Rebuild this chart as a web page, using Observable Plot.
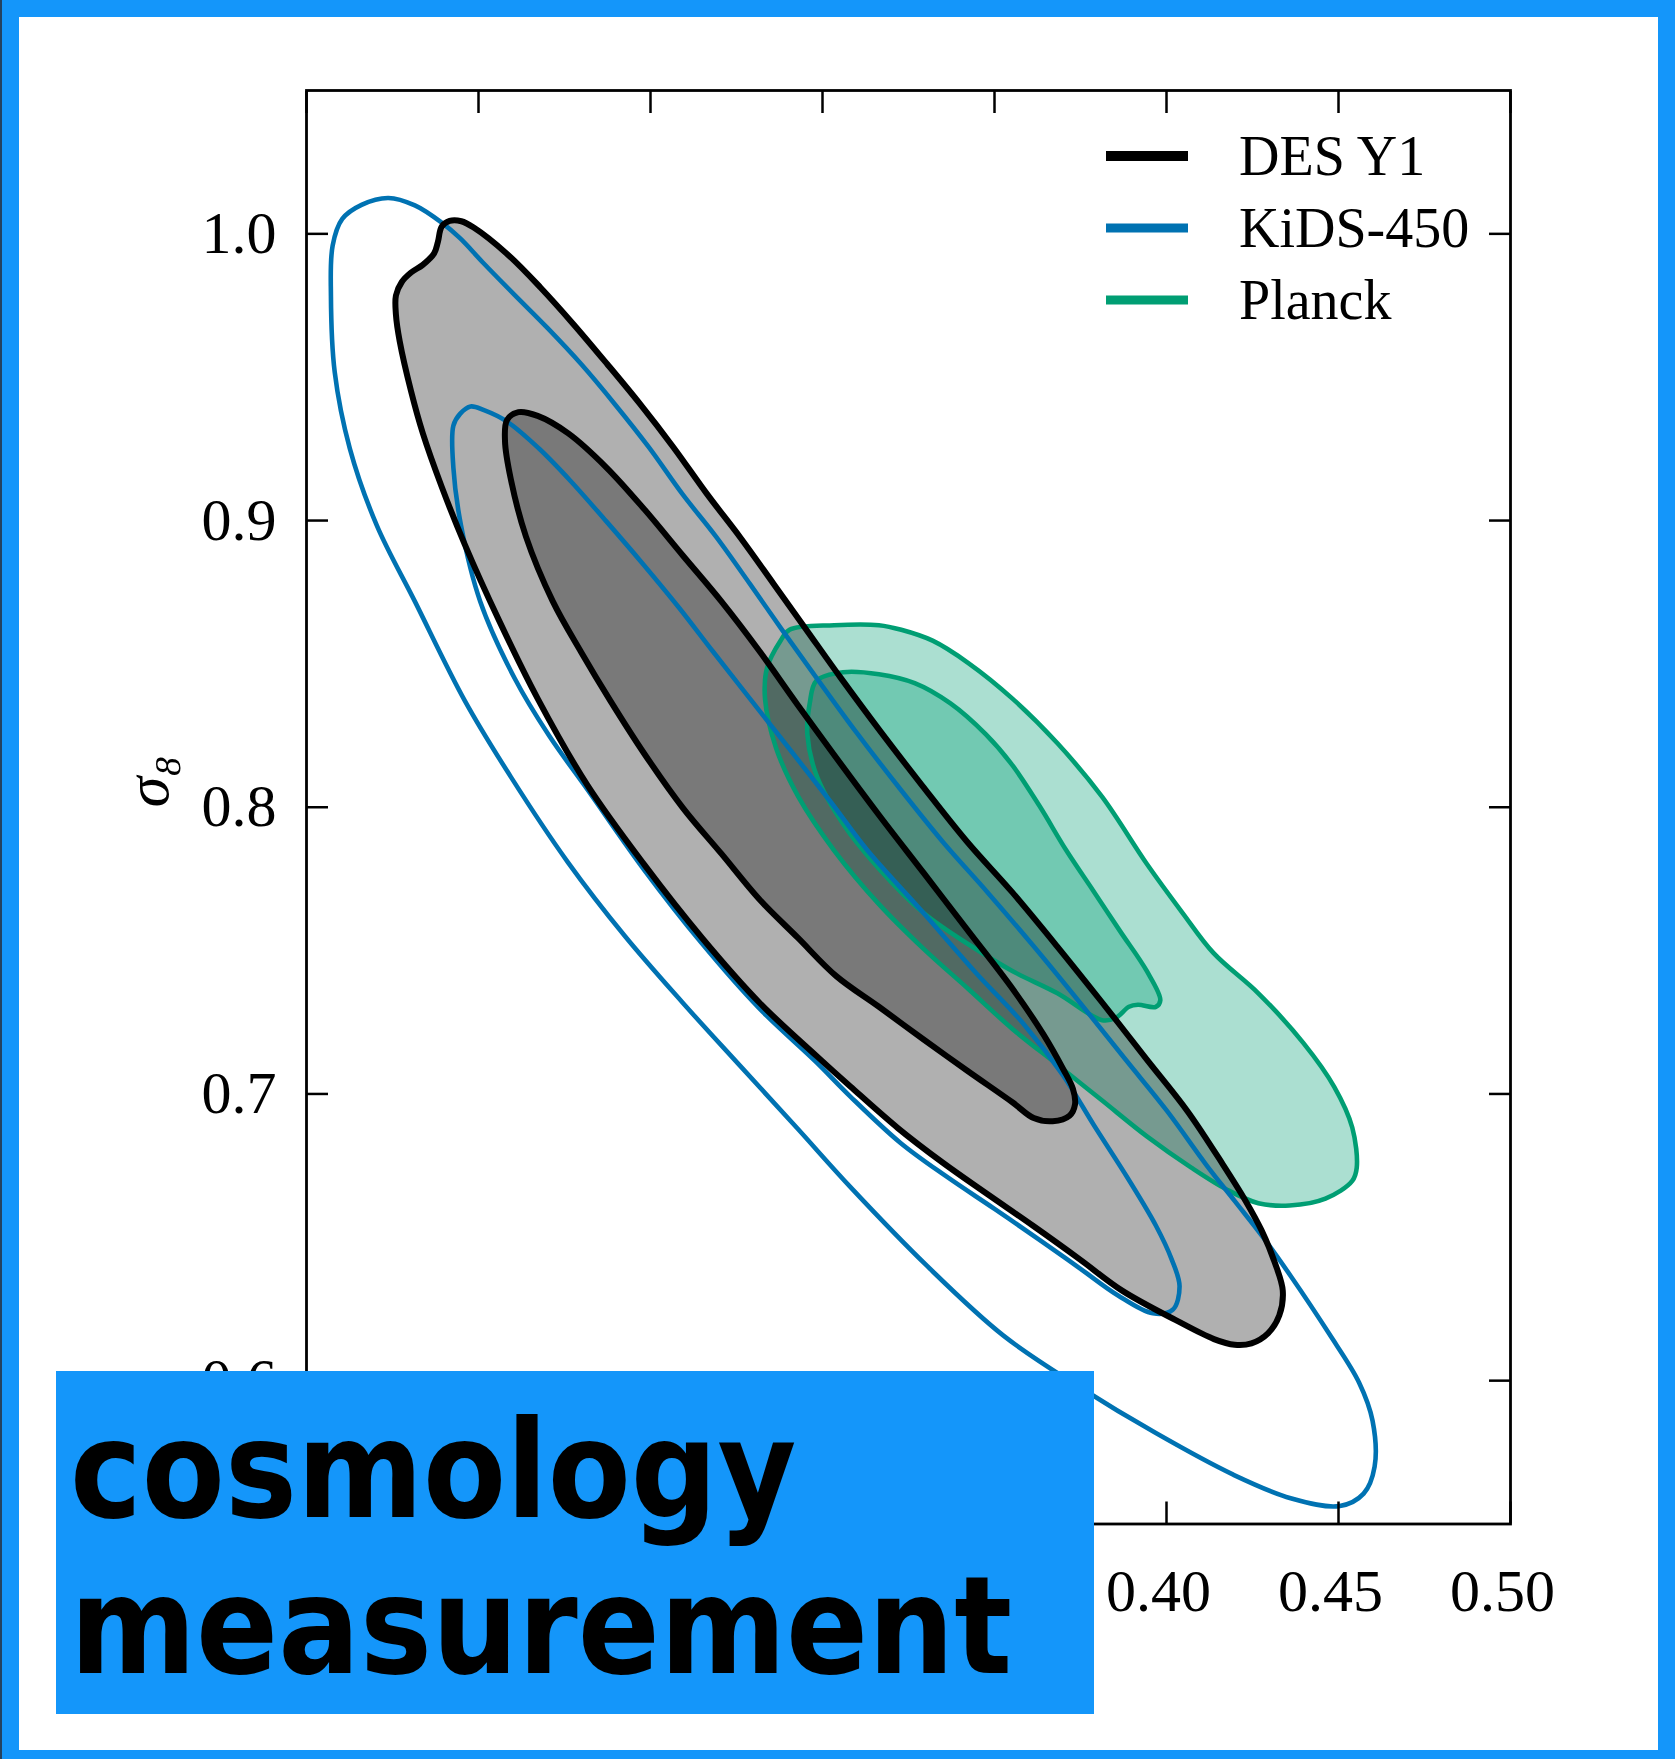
<!DOCTYPE html>
<html>
<head>
<meta charset="utf-8">
<script src="https://cdn.jsdelivr.net/npm/d3@7"></script>
<script src="https://cdn.jsdelivr.net/npm/@observablehq/plot@0.6"></script>
<style>
  html, body { margin: 0; padding: 0; }
  body { width: 1675px; height: 1759px; position: relative; background: #1496fa; overflow: hidden; }
  #edge { position: absolute; left: 0; top: 0; width: 2px; height: 1759px; background: #24425f; }
  #page { position: absolute; left: 19px; top: 17px; width: 1639px; height: 1733px; background: #ffffff; }
  #chart { position: absolute; left: 0; top: 0; }
  #legend { position: absolute; left: 1090px; top: 110px; }
  #tag { position: absolute; left: 56px; top: 1371px; width: 1038px; height: 343px; background: #1496fa; }
  .tagline { position: absolute; left: 70px; font-family: "DejaVu Sans", sans-serif; font-weight: bold;
             font-size: 136px; line-height: 100px; color: #000; transform: scaleX(0.89); transform-origin: 0 0; white-space: nowrap; }
</style>
</head>
<body>
<div id="edge"></div>
<div id="page"></div>
<div id="chart"></div>
<div id="legend"></div>
<div id="tagwrap"></div>
<script>
// ---------- data ----------
const xDomain = [0.15, 0.50];
const yDomain = [0.55, 1.05];
const xTicks = [0.15, 0.20, 0.25, 0.30, 0.35, 0.40, 0.45, 0.50];
const xLabelTicks = [0.40, 0.45, 0.50];   // the others are hidden under the tag in the reference
const yTicks = [0.6, 0.7, 0.8, 0.9, 1.0];
const yLabel = "σ₈";
const seriesNames = ["DES Y1", "KiDS-450", "Planck"];
const seriesColors = ["#000000", "#0072b2", "#009e73"];
const tagLines = ["cosmology", "measurement"];

// contours: [Omega_m, sigma_8]
const desOuter = [[0.1916,1.0045],[0.1950,1.0044],[0.1986,1.0022],[0.2083,0.9930],[0.2180,0.9813],[0.2276,0.9685],[0.2374,0.9546],[0.2470,0.9406],[0.2567,0.9255],[0.2664,0.9093],[0.2761,0.8941],[0.2858,0.8779],[0.2955,0.8616],[0.3052,0.8453],[0.3170,0.8262],[0.3291,0.8074],[0.3421,0.7879],[0.3552,0.7703],[0.3682,0.7515],[0.3813,0.7319],[0.3943,0.7120],[0.4061,0.6940],[0.4165,0.6752],[0.4230,0.6627],[0.4276,0.6525],[0.4315,0.6411],[0.4338,0.6314],[0.4328,0.6228],[0.4295,0.6165],[0.4247,0.6130],[0.4198,0.6125],[0.4138,0.6145],[0.4027,0.6211],[0.3871,0.6314],[0.3748,0.6423],[0.3611,0.6541],[0.3480,0.6650],[0.3350,0.6760],[0.3219,0.6881],[0.3081,0.7026],[0.2984,0.7131],[0.2817,0.7318],[0.2650,0.7544],[0.2483,0.7798],[0.2316,0.8078],[0.2172,0.8379],[0.2060,0.8651],[0.1960,0.8917],[0.1893,0.9118],[0.1838,0.9305],[0.1804,0.9451],[0.1771,0.9625],[0.1760,0.9718],[0.1760,0.9785],[0.1777,0.9832],[0.1804,0.9865],[0.1838,0.9892],[0.1871,0.9932],[0.1882,0.9972],[0.1893,1.0025]];
const desInner = [[0.2116,0.9378],[0.2172,0.9365],[0.2261,0.9304],[0.2372,0.9185],[0.2483,0.9038],[0.2594,0.8878],[0.2706,0.8718],[0.2817,0.8544],[0.2928,0.8357],[0.3033,0.8184],[0.3164,0.7973],[0.3294,0.7771],[0.3424,0.7568],[0.3553,0.7366],[0.3643,0.7206],[0.3699,0.7088],[0.3728,0.7018],[0.3734,0.6963],[0.3718,0.6924],[0.3669,0.6905],[0.3614,0.6916],[0.3552,0.6971],[0.3421,0.7081],[0.3294,0.7190],[0.3164,0.7304],[0.3040,0.7411],[0.2928,0.7545],[0.2817,0.7678],[0.2706,0.7838],[0.2594,0.7998],[0.2483,0.8185],[0.2383,0.8372],[0.2299,0.8540],[0.2216,0.8718],[0.2138,0.8944],[0.2094,0.9144],[0.2077,0.9278],[0.2083,0.9351]];
const kidsOuter = [[0.1738,1.0125],[0.1815,1.0099],[0.1893,1.0039],[0.1947,0.9984],[0.2012,0.9901],[0.2104,0.9788],[0.2201,0.9671],[0.2299,0.9545],[0.2397,0.9405],[0.2495,0.9256],[0.2593,0.9092],[0.2691,0.8943],[0.2789,0.8779],[0.2883,0.8618],[0.2981,0.8454],[0.3098,0.8262],[0.3219,0.8074],[0.3350,0.7879],[0.3480,0.7703],[0.3614,0.7515],[0.3748,0.7319],[0.3881,0.7120],[0.4002,0.6940],[0.4116,0.6752],[0.4198,0.6627],[0.4282,0.6498],[0.4361,0.6365],[0.4472,0.6165],[0.4560,0.5993],[0.4599,0.5860],[0.4605,0.5700],[0.4573,0.5606],[0.4504,0.5563],[0.4361,0.5590],[0.4194,0.5672],[0.3969,0.5817],[0.3748,0.5977],[0.3526,0.6157],[0.3304,0.6400],[0.3082,0.6674],[0.2926,0.6881],[0.2762,0.7096],[0.2593,0.7319],[0.2426,0.7550],[0.2260,0.7808],[0.2094,0.8106],[0.1960,0.8372],[0.1815,0.8718],[0.1704,0.8984],[0.1626,0.9251],[0.1582,0.9518],[0.1571,0.9785],[0.1576,0.9959],[0.1604,1.0052],[0.1660,1.0101]];
const kidsInner = [[0.1977,0.9398],[0.2016,0.9385],[0.2083,0.9345],[0.2175,0.9252],[0.2267,0.9139],[0.2371,0.8998],[0.2475,0.8853],[0.2583,0.8696],[0.2681,0.8544],[0.2789,0.8379],[0.2899,0.8211],[0.3023,0.8020],[0.3131,0.7849],[0.3284,0.7644],[0.3447,0.7421],[0.3584,0.7245],[0.3699,0.7065],[0.3790,0.6889],[0.3888,0.6705],[0.3969,0.6541],[0.4015,0.6423],[0.4038,0.6329],[0.4018,0.6247],[0.3960,0.6235],[0.3858,0.6298],[0.3748,0.6392],[0.3637,0.6486],[0.3500,0.6599],[0.3359,0.6713],[0.3226,0.6830],[0.3081,0.6991],[0.2981,0.7112],[0.2815,0.7300],[0.2648,0.7527],[0.2482,0.7781],[0.2316,0.8063],[0.2205,0.8250],[0.2105,0.8450],[0.2005,0.8718],[0.1949,0.8984],[0.1927,0.9184],[0.1927,0.9331],[0.1947,0.9373]];
const planckOuter = [[0.2904,0.8619],[0.3034,0.8635],[0.3164,0.8635],[0.3229,0.8619],[0.3320,0.8581],[0.3424,0.8503],[0.3553,0.8378],[0.3683,0.8223],[0.3813,0.8036],[0.3943,0.7802],[0.4047,0.7631],[0.4137,0.7491],[0.4267,0.7351],[0.4397,0.7179],[0.4488,0.7024],[0.4540,0.6883],[0.4553,0.6743],[0.4540,0.6697],[0.4462,0.6635],[0.4358,0.6611],[0.4267,0.6619],[0.4176,0.6666],[0.4072,0.6743],[0.3943,0.6852],[0.3813,0.6977],[0.3683,0.7102],[0.3553,0.7226],[0.3424,0.7366],[0.3294,0.7506],[0.3164,0.7662],[0.3034,0.7849],[0.2930,0.8036],[0.2865,0.8207],[0.2833,0.8378],[0.2839,0.8487],[0.2878,0.8581]];
const planckInner = [[0.2982,0.8441],[0.3060,0.8471],[0.3164,0.8464],[0.3268,0.8433],[0.3371,0.8363],[0.3475,0.8254],[0.3553,0.8145],[0.3631,0.8004],[0.3709,0.7849],[0.3787,0.7709],[0.3865,0.7568],[0.3943,0.7428],[0.3982,0.7327],[0.3969,0.7304],[0.3917,0.7311],[0.3891,0.7304],[0.3852,0.7265],[0.3813,0.7257],[0.3683,0.7351],[0.3553,0.7428],[0.3424,0.7522],[0.3294,0.7631],[0.3164,0.7786],[0.3060,0.7942],[0.2982,0.8113],[0.2956,0.8254],[0.2963,0.8363]];

// ---------- chart ----------
const W = 1675, H = 1759;
const serif = "'Liberation Serif', 'DejaVu Serif', serif";
const [black, blue, green] = seriesColors;

const fillArea = (pts, fill, op) => Plot.line(pts, {
  x: d => d[0], y: d => d[1], curve: "catmull-rom-closed",
  fill, fillOpacity: op, stroke: "none"
});
const outline = (pts, stroke, sw) => Plot.line(pts, {
  x: d => d[0], y: d => d[1], curve: "catmull-rom-closed",
  fill: "none", stroke, strokeWidth: sw, strokeLinejoin: "round"
});

const chart = Plot.plot({
  width: W, height: H,
  marginLeft: 306, marginRight: 165, marginTop: 90, marginBottom: 235.5,
  x: {domain: xDomain},
  y: {domain: yDomain},
  style: {background: "transparent", color: "black", fontFamily: serif, fontSize: "60px"},
  marks: [
    fillArea(planckOuter, green, 0.33),
    fillArea(planckInner, green, 0.33),
    fillArea(desOuter, black, 0.31),
    fillArea(desInner, black, 0.31),
    outline(planckOuter, green, 4.6),
    outline(planckInner, green, 4.6),
    outline(kidsOuter, blue, 4.6),
    outline(kidsInner, blue, 4.6),
    outline(desOuter, black, 6),
    outline(desInner, black, 6),
    Plot.frame({stroke: "black", strokeWidth: 2.8}),
    Plot.axisX(xTicks, {anchor: "bottom", tickSize: -22, strokeWidth: 2.5, tickFormat: () => "", label: null}),
    Plot.axisX(xTicks, {anchor: "top", tickSize: -22, strokeWidth: 2.5, tickFormat: () => "", label: null}),
    Plot.axisY(yTicks, {anchor: "left", tickSize: -22, strokeWidth: 2.5, tickFormat: () => "", label: null}),
    Plot.axisY(yTicks, {anchor: "right", tickSize: -22, strokeWidth: 2.5, tickFormat: () => "", label: null}),
    Plot.axisX(xLabelTicks, {anchor: "bottom", tickSize: 0, tickPadding: 44, dx: -8,
      tickFormat: d3.format(".2f"), fontSize: 60, fontFamily: serif, label: null}),
    Plot.axisY(yTicks, {anchor: "left", tickSize: 0, tickPadding: 30,
      tickFormat: d3.format(".1f"), fontSize: 60, fontFamily: serif, label: null}),
    Plot.text([yLabel], {frameAnchor: "left", dx: -158, rotate: -90, text: d => d,
      fontSize: 62, fontStyle: "italic", fontFamily: serif, fill: "black"})
  ]
});
document.getElementById("chart").append(chart);

// ---------- legend ----------
const leg = d3.select("#legend").append("svg").attr("width", 420).attr("height", 240);
seriesNames.forEach((name, i) => {
  const y = 46 + i * 72;
  leg.append("line").attr("x1", 16).attr("x2", 98).attr("y1", y).attr("y2", y)
    .attr("stroke", seriesColors[i]).attr("stroke-width", i === 0 ? 10 : 9);
  leg.append("text").attr("x", 149).attr("y", y + 19).text(name)
    .attr("font-family", serif).attr("font-size", 56).attr("fill", "black");
});

// ---------- tag ----------
const wrap = document.getElementById("tagwrap");
const tag = document.createElement("div");
tag.id = "tag";
wrap.append(tag);
const tops = [1420, 1576];
tagLines.forEach((t, i) => {
  const d = document.createElement("div");
  d.className = "tagline";
  d.style.top = tops[i] + "px";
  d.textContent = t;
  document.body.append(d);
});
</script>
</body>
</html>
